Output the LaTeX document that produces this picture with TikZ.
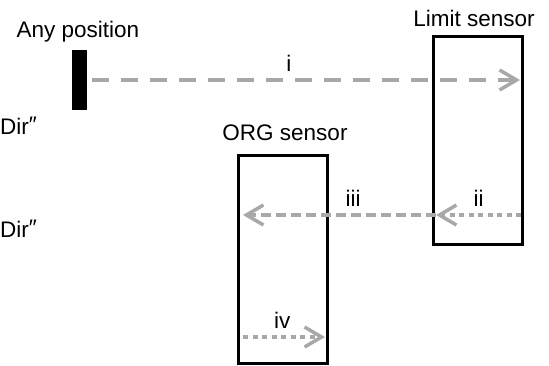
\documentclass[tikz,border=0pt]{standalone}
\usepackage{fontspec}
\setmainfont{Liberation Sans}
\usepackage{tikz}
\usetikzlibrary{arrows.meta, positioning}

\definecolor{trace}{HTML}{A8A8A8}
\tikzset{
    sensor/.style={draw, line width=3.5pt, minimum width=89pt, minimum height=208pt, inner sep=0pt},
    move/.style={trace, line width=3.5pt, -{Straight Barb[length=17pt, width=20pt, line width=3.5pt]}},
    longdash/.style={dash pattern=on 17pt off 12pt},
    shortdash/.style={dash pattern=on 10pt off 5pt},
    dotline/.style={dash pattern=on 5pt off 4.5pt},
    movelab/.style={above=3pt, black}
}

\begin{document}
\begin{tikzpicture}[x=1pt, y=-1pt, every node/.style={font=\fontsize{22.5}{26}\selectfont}]
                \useasboundingbox (0,0) rectangle (549,365);
                % Start
                \node[fill=black, minimum width=15pt, minimum height=60pt, inner sep=0pt] (start) at (79.5,80) {};
                \node (anytxt) at (78,32) {Any position};
                % Sensors
                \node[sensor] (limit) at (478,140.5) {};
                \node[sensor] (org) at (283,259.5) {};
                \node (limtxt) at (474,18) {Limit sensor};
                \node (orgtxt) at (285,133) {ORG sensor};
                % Directions
                \node[anchor=west, inner sep=0pt] (dirA) at (0,126) {Dir\raisebox{2pt}{″}};
                \node[anchor=west, inner sep=0pt] (dirB) at (0,229) {Dir\raisebox{2pt}{″}};
                % Ends
                \coordinate (iend) at (520,80);
                \coordinate (iistart) at (521,215);
                \coordinate (iiend) at (436,215);
                \coordinate (iiiend) at (243,215);
                \coordinate (ivstart) at (243,337);
                \coordinate (ivend) at (325,337);
                % Moves
                \draw[move, longdash] ([xshift=5pt]start.east) -- (iend) node[pos=0.46, movelab] (ilab) {i};
                \draw[move, dotline] (iistart) -- (iiend) node[pos=0.5, movelab] (iilab) {ii};
                \draw[move, shortdash] (iiend) -- (iiiend) node[pos=0.43, movelab] (iiilab) {iii};
                \draw[move, dotline] (ivstart) -- (ivend) node[pos=0.48, movelab] (ivlab) {iv};
\end{tikzpicture}
\end{document}
